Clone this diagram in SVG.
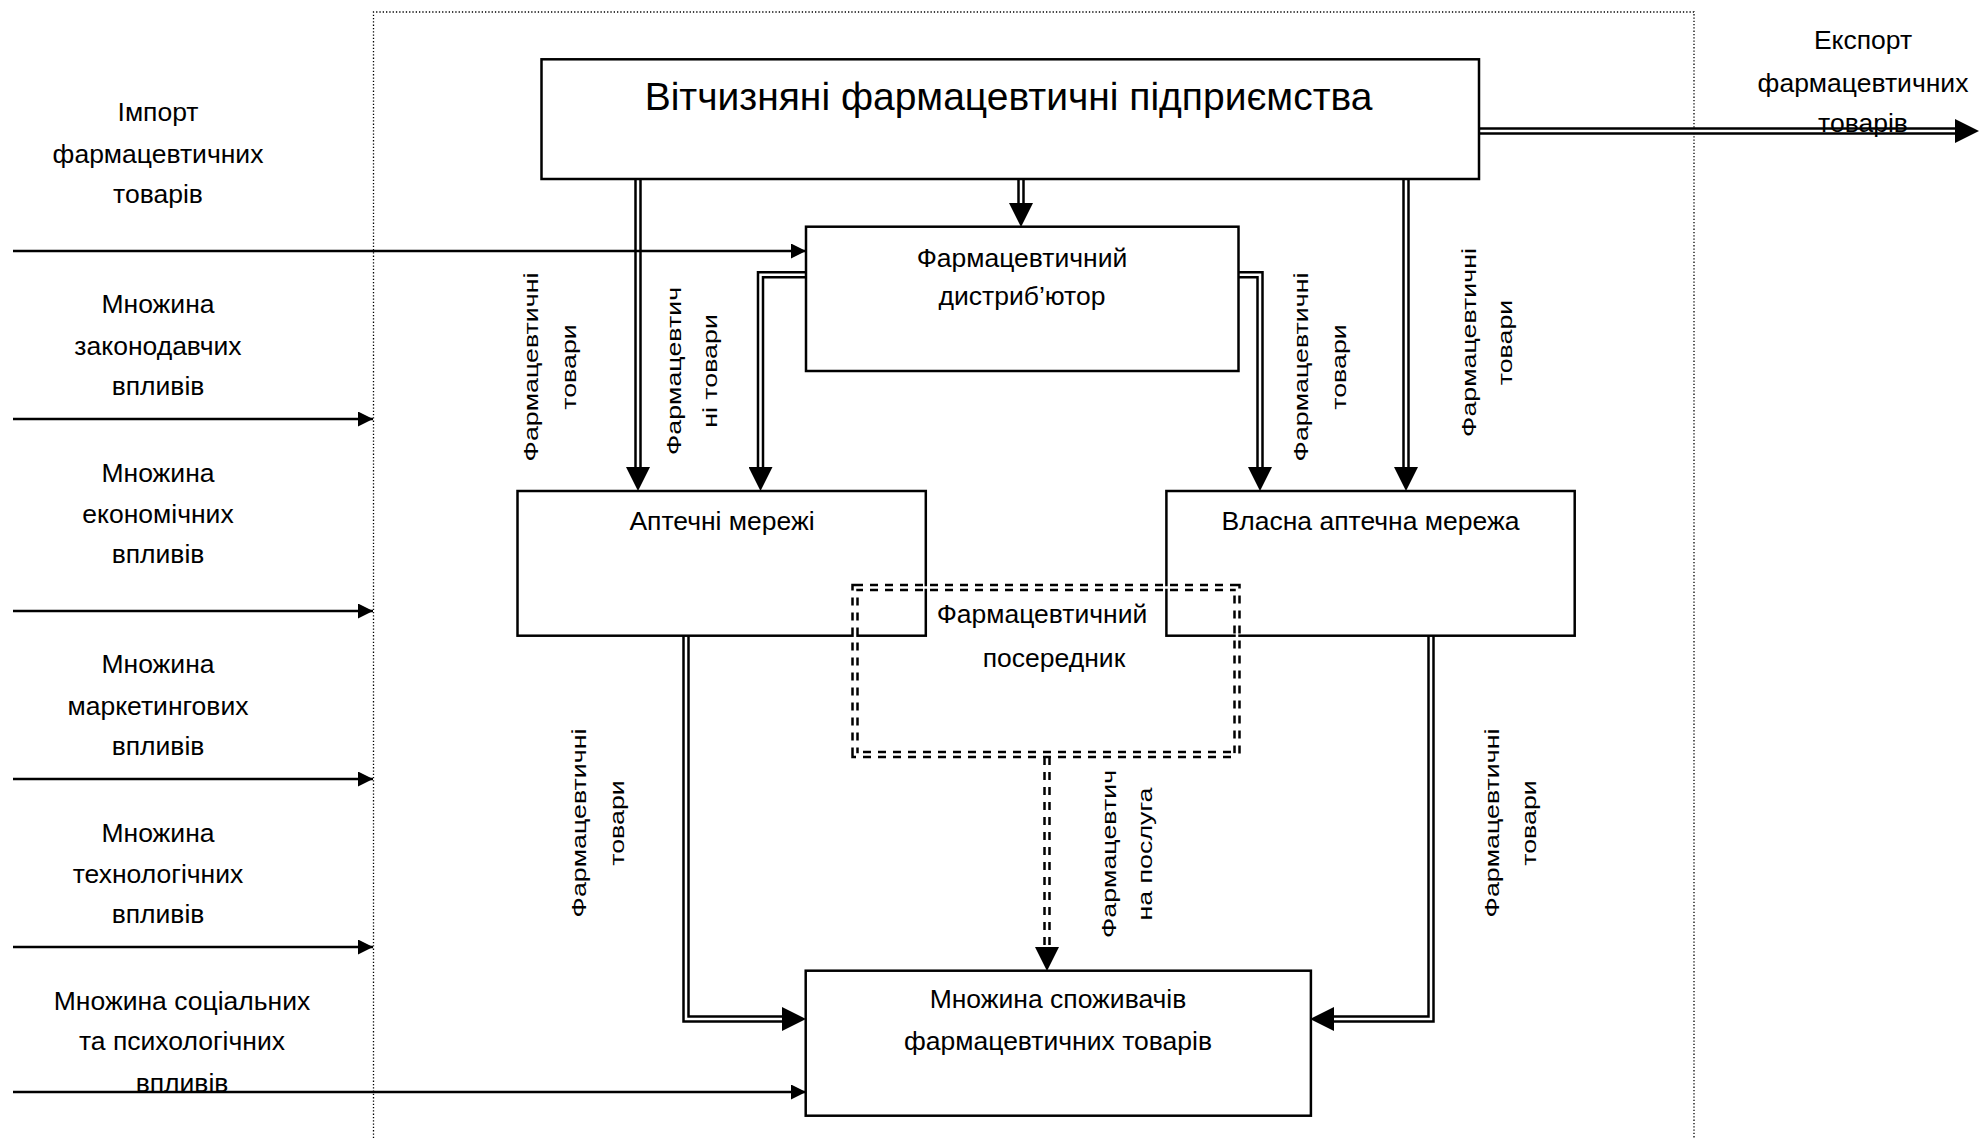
<svg xmlns="http://www.w3.org/2000/svg" width="1979" height="1138" viewBox="0 0 1979 1138">
<style>
.t{font-family:"Liberation Sans",Arial,sans-serif;font-size:26.5px;fill:#000;text-anchor:middle}
.title{font-size:39px}
.v{font-family:"Liberation Sans",Arial,sans-serif;font-size:20px;fill:#000;text-anchor:middle}
.box{fill:#fff;stroke:#000;stroke-width:2.5}
.sl{fill:none;stroke:#000;stroke-width:2.5}
.db{fill:none;stroke:#000;stroke-width:7.5;stroke-linejoin:miter}
.dw{fill:none;stroke:#fff;stroke-width:2.5;stroke-linejoin:miter}
.dash{stroke-dasharray:8 7}
.border{fill:none;stroke:#000;stroke-width:1.3;stroke-dasharray:1.3 2}
</style>
<defs>
<marker id="ah" markerUnits="userSpaceOnUse" viewBox="0 0 15 15" markerWidth="15" markerHeight="15" refX="15" refY="7.5" orient="auto"><path d="M0,0 L15,7.5 L0,15 z" fill="#000"/></marker>
<marker id="dh" markerUnits="userSpaceOnUse" viewBox="0 0 24 24" markerWidth="24" markerHeight="24" refX="0" refY="12" orient="auto"><path d="M0,0 L24,12 L0,24 z" fill="#000"/></marker>
</defs>
<rect width="1979" height="1138" fill="#fff"/>
<path class="border" d="M373.5,1138 V12 H1694 V1138"/>

<g id="connectors">
  <path class="db" d="M1021,180 V203" marker-end="url(#dh)"/><path class="dw" d="M1021,180 V203"/>
  <path class="db" d="M638,180 V467" marker-end="url(#dh)"/><path class="dw" d="M638,180 V467"/>
  <path class="db" d="M806,274.7 H760.5 V467" marker-end="url(#dh)"/><path class="dw" d="M806,274.7 H760.5 V467"/>
  <path class="db" d="M1238.5,274.7 H1260 V467" marker-end="url(#dh)"/><path class="dw" d="M1238.5,274.7 H1260 V467"/>
  <path class="db" d="M1406,180 V467" marker-end="url(#dh)"/><path class="dw" d="M1406,180 V467"/>
  <path class="db" d="M1479,131 H1955" marker-end="url(#dh)"/><path class="dw" d="M1480,131 H1955"/>
  <path class="db" d="M686,636 V1019 H782" marker-end="url(#dh)"/><path class="dw" d="M686,636 V1019 H782"/>
  <path class="db" d="M1431,636 V1019 H1334" marker-end="url(#dh)"/><path class="dw" d="M1431,636 V1019 H1334"/>
  <path class="db dash" d="M1047,757 V947" marker-end="url(#dh)"/><path class="dw" d="M1047,757 V947"/>
  <path class="sl" d="M13,251 H806" marker-end="url(#ah)"/>
  <path class="sl" d="M13,419 H373" marker-end="url(#ah)"/>
  <path class="sl" d="M13,611 H373" marker-end="url(#ah)"/>
  <path class="sl" d="M13,779 H373" marker-end="url(#ah)"/>
  <path class="sl" d="M13,947 H373" marker-end="url(#ah)"/>
  <path class="sl" d="M13,1092 H806" marker-end="url(#ah)"/>
</g>

<g id="node-enterprises">
  <rect class="box" x="541.5" y="59.3" width="937.5" height="119.7"/>
  <text class="t title" x="1008.6" y="110">Вітчизняні фармацевтичні підприємства</text>
</g>
<g id="node-distributor">
  <rect class="box" x="806" y="226.7" width="432.5" height="144.3"/>
  <text class="t" x="1022" y="266.7">Фармацевтичний</text>
  <text class="t" x="1022" y="305">дистриб’ютор</text>
</g>
<g id="node-pharmacy-chains">
  <rect class="box" x="517.5" y="491" width="408.3" height="144.7"/>
  <text class="t" x="722" y="530">Аптечні мережі</text>
</g>
<g id="node-own-chain">
  <rect class="box" x="1166.4" y="491" width="408.3" height="144.7"/>
  <text class="t" x="1370.5" y="530">Власна аптечна мережа</text>
</g>
<g id="node-intermediary">
  <path class="db dash" d="M855,587.5 H1237 V754.5 H855 Z"/>
  <path class="dw" d="M855,587.5 H1237 V754.5 H855 Z"/>
  <text class="t" x="1042" y="623.3">Фармацевтичний</text>
  <text class="t" x="1054" y="666.7">посередник</text>
</g>
<g id="node-consumers">
  <rect class="box" x="805.7" y="970.7" width="505.2" height="145"/>
  <text class="t" x="1058" y="1008">Множина споживачів</text>
  <text class="t" x="1058" y="1050">фармацевтичних товарів</text>
</g>

<g id="labels-left">
  <text class="t" x="158" y="120.7">Імпорт</text>
  <text class="t" x="158" y="162.7">фармацевтичних</text>
  <text class="t" x="158" y="202.7">товарів</text>
  <text class="t" x="158" y="313.3">Множина</text>
  <text class="t" x="158" y="355">законодавчих</text>
  <text class="t" x="158" y="395">впливів</text>
  <text class="t" x="158" y="481.7">Множина</text>
  <text class="t" x="158" y="523">економічних</text>
  <text class="t" x="158" y="563">впливів</text>
  <text class="t" x="158" y="673">Множина</text>
  <text class="t" x="158" y="715">маркетингових</text>
  <text class="t" x="158" y="755">впливів</text>
  <text class="t" x="158" y="841.7">Множина</text>
  <text class="t" x="158" y="883">технологічних</text>
  <text class="t" x="158" y="923">впливів</text>
  <text class="t" x="182" y="1010">Множина соціальних</text>
  <text class="t" x="182" y="1050">та психологічних</text>
  <text class="t" x="182" y="1091.7">впливів</text>
</g>
<g id="labels-export">
  <text class="t" x="1863" y="49">Експорт</text>
  <text class="t" x="1863" y="91.7">фармацевтичних</text>
  <text class="t" x="1863" y="131.7">товарів</text>
</g>

<g id="labels-vertical">
  <text class="v" transform="translate(537.5,367) rotate(-90) scale(1.34,1)">Фармацевтичні</text>
  <text class="v" transform="translate(575.5,367) rotate(-90) scale(1.34,1)">товари</text>
  <text class="v" transform="translate(681,371) rotate(-90) scale(1.34,1)">Фармацевтич</text>
  <text class="v" transform="translate(717,371) rotate(-90) scale(1.34,1)">ні товари</text>
  <text class="v" transform="translate(1307.5,367) rotate(-90) scale(1.34,1)">Фармацевтичні</text>
  <text class="v" transform="translate(1345.5,367) rotate(-90) scale(1.34,1)">товари</text>
  <text class="v" transform="translate(1476,342.5) rotate(-90) scale(1.34,1)">Фармацевтичні</text>
  <text class="v" transform="translate(1512,342.5) rotate(-90) scale(1.34,1)">товари</text>
  <text class="v" transform="translate(586,823) rotate(-90) scale(1.34,1)">Фармацевтичні</text>
  <text class="v" transform="translate(624,823) rotate(-90) scale(1.34,1)">товари</text>
  <text class="v" transform="translate(1116,854) rotate(-90) scale(1.34,1)">Фармацевтич</text>
  <text class="v" transform="translate(1152,854) rotate(-90) scale(1.34,1)">на послуга</text>
  <text class="v" transform="translate(1499,823) rotate(-90) scale(1.34,1)">Фармацевтичні</text>
  <text class="v" transform="translate(1535.5,823) rotate(-90) scale(1.34,1)">товари</text>
</g>
</svg>
